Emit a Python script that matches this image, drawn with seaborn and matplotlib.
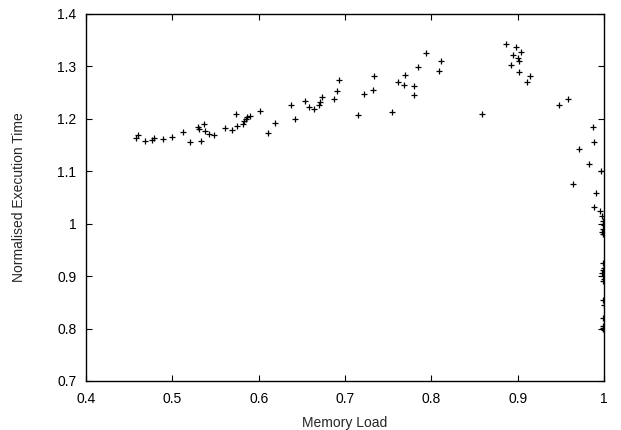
import pandas as pd
import matplotlib
matplotlib.use("Agg")
import matplotlib.pyplot as plt
import seaborn as sns

# ------------------------------------------------------------
# Data (memory load vs normalised time)
# ------------------------------------------------------------
memory_load = [
    0.458, 0.460, 0.468, 0.477, 0.479, 0.489, 0.500, 0.512, 0.520, 0.530,
    0.531, 0.533, 0.537, 0.538, 0.542, 0.548, 0.561, 0.569, 0.574, 0.575,
    0.582, 0.583, 0.585, 0.587, 0.590, 0.602, 0.611, 0.619, 0.638, 0.642,
    0.654, 0.658, 0.664, 0.670, 0.671, 0.673, 0.687, 0.691, 0.693, 0.715,
    0.722, 0.732, 0.734, 0.755, 0.761, 0.768, 0.769, 0.780, 0.780, 0.785,
    0.794, 0.809, 0.811, 0.859, 0.887, 0.892, 0.895, 0.898, 0.901, 0.902,
    0.904, 0.902, 0.911, 0.914, 0.948, 0.958, 0.971, 0.964, 0.983, 0.987,
    0.989, 0.991, 0.989, 0.997, 0.996,
    0.998, 0.999, 0.999, 1.000, 0.999, 0.998, 0.999, 0.999, 1.000, 0.999,
    0.998, 0.999, 1.000, 0.999, 0.999, 1.000, 0.999, 0.999, 0.999, 1.000,
    0.999,
]
exec_time = [
    1.164, 1.169, 1.157, 1.160, 1.164, 1.161, 1.166, 1.175, 1.155, 1.185,
    1.181, 1.158, 1.191, 1.177, 1.171, 1.170, 1.182, 1.178, 1.210, 1.186,
    1.191, 1.196, 1.200, 1.204, 1.205, 1.215, 1.173, 1.193, 1.227, 1.200,
    1.234, 1.222, 1.219, 1.226, 1.232, 1.241, 1.238, 1.254, 1.275, 1.208,
    1.248, 1.255, 1.281, 1.213, 1.270, 1.264, 1.283, 1.262, 1.246, 1.299,
    1.325, 1.292, 1.310, 1.209, 1.342, 1.303, 1.322, 1.337, 1.316, 1.310,
    1.327, 1.290, 1.270, 1.281, 1.226, 1.238, 1.143, 1.076, 1.113, 1.185,
    1.155, 1.059, 1.031, 1.100, 1.024,
    1.015, 1.005, 1.000, 0.998, 0.990, 0.985, 0.980, 0.925, 0.915, 0.912,
    0.905, 0.900, 0.895, 0.890, 0.855, 0.845, 0.820, 0.805, 0.800, 0.797,
    0.802,
]

x_ticks = [0.4, 0.5, 0.6, 0.7, 0.8, 0.9, 1.0]
x_tick_labels = ["0.4", "0.5", "0.6", "0.7", "0.8", "0.9", "1"]
y_ticks = [0.7, 0.8, 0.9, 1.0, 1.1, 1.2, 1.3, 1.4]
y_tick_labels = ["0.7", "0.8", "0.9", "1", "1.1", "1.2", "1.3", "1.4"]

df = pd.DataFrame({"Memory Load": memory_load, "Normalised Execution Time": exec_time})

# ------------------------------------------------------------
# Plot
# ------------------------------------------------------------
sns.set_style("ticks")
plt.rcParams["font.family"] = ["Liberation Sans", "DejaVu Sans"]

fig = plt.figure(figsize=(6.21, 4.30), dpi=100)
ax = fig.add_axes([0.1385, 0.114, 0.834, 0.8535])

sns.scatterplot(data=df, x="Memory Load", y="Normalised Execution Time",
                marker="+", color="black", s=18, linewidth=0.9, ax=ax)

ax.set_xlim(0.4, 1.0)
ax.set_ylim(0.7, 1.4)
ax.set_xticks(x_ticks)
ax.set_xticklabels(x_tick_labels)
ax.set_yticks(y_ticks)
ax.set_yticklabels(y_tick_labels)
ax.tick_params(direction="in", length=4, width=0.8, labelsize=10,
               top=True, right=True, colors="black")
ax.tick_params(axis="x", pad=8)
ax.tick_params(axis="y", pad=7)
for side in ax.spines.values():
    side.set_linewidth(1.0)
    side.set_color("black")
    side.set_visible(True)

ax.set_xlabel("Memory Load", fontsize=10, labelpad=7)
ax.set_ylabel("Normalised Execution Time", fontsize=10, labelpad=22)

fig.savefig("out.png", dpi=100)
